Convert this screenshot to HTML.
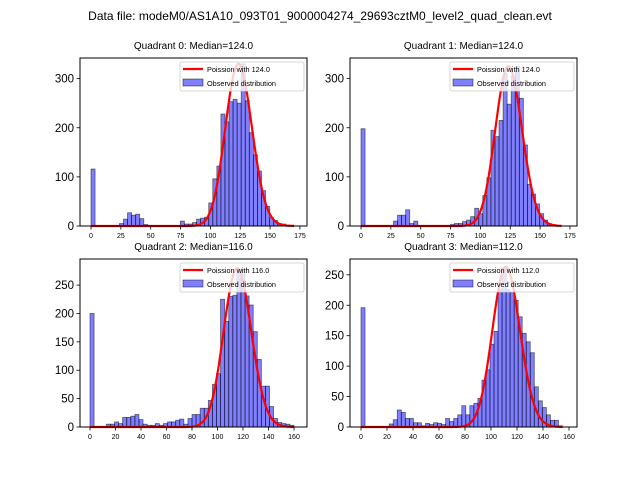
<!DOCTYPE html>
<html><head><meta charset="utf-8"><style>
body{margin:0;background:#fff}
svg{display:block;font-family:"Liberation Sans",sans-serif}
</style></head><body>
<svg id="chart" width="640" height="480">
<rect width="640" height="480" fill="#fff"/>
<text x="320" y="20" text-anchor="middle" font-size="12">Data file: modeM0/AS1A10_093T01_9000004274_29693cztM0_level2_quad_clean.evt</text>
</svg>
<script>
const titles = ["Quadrant 0: Median=124.0","Quadrant 1: Median=124.0","Quadrant 2: Median=116.0","Quadrant 3: Median=112.0"];
const medians = [124, 124, 116, 112];
const curvePeaks = [330, 325, 280, 263];
const curveMax = [170, 168, 160, 155];
const binWidths = [3.4, 3.4, 3.2, 3.1];
const counts0 = [116,0,0,0,0,0,0,5,14,27,22,24,15,3,0,0,0,0,0,0,0,0,10,4,4,7,14,16,18,47,96,122,228,212,253,258,250,330,255,190,145,112,72,40,17,11,5,4,2,1];
const counts1 = [198,0,0,0,0,0,0,0,10,22,22,33,5,10,0,0,0,0,0,0,0,0,3,5,5,9,12,19,36,25,62,98,195,182,215,310,248,305,325,260,165,85,65,45,25,12,5,3,1,0];
const counts2 = [200,0,0,0,5,5,9,6,17,17,19,22,13,5,3,3,6,3,6,9,9,12,14,5,15,22,22,33,33,47,75,94,225,186,230,232,275,278,231,215,168,119,72,72,36,15,8,6,5,3];
const counts3 = [196,0,0,0,0,0,0,5,12,28,24,14,14,7,7,2,6,4,7,6,4,14,9,14,20,35,20,35,39,47,77,94,136,157,226,262,226,222,208,181,154,140,122,66,43,32,20,11,11,2];
const xTicks01 = [0,25,50,75,100,125,150,175];
const xTicks23 = [0,20,40,60,80,100,120,140,160];
const yTicks01 = [0,100,200,300];
const yTicks23 = [0,50,100,150,200,250];

const svg = document.getElementById('chart');
const NS = 'http://www.w3.org/2000/svg';
function mk(tag, attrs, parent){const e=document.createElementNS(NS,tag);for(const k in attrs)e.setAttribute(k,attrs[k]);parent.appendChild(e);return e;}
function lnFact(n){if(n<1)return 0;return n*Math.log(n)-n+0.5*Math.log(2*Math.PI*n)+1/(12*n);}
function lpois(k,mu){return k*Math.log(mu)-mu-lnFact(k);}

const panels = [
 {L:80,R:307,T:58,B:226,x0:91,xs:1.194,ymax:342,counts:counts0,xt:xTicks01,yt:yTicks01},
 {L:350,R:577,T:58,B:226,x0:361,xs:1.194,ymax:342,counts:counts1,xt:xTicks01,yt:yTicks01},
 {L:80,R:307,T:259,B:427,x0:90,xs:1.275,ymax:296,counts:counts2,xt:xTicks23,yt:yTicks23},
 {L:350,R:577,T:259,B:427,x0:361,xs:1.3,ymax:276,counts:counts3,xt:xTicks23,yt:yTicks23}
];

panels.forEach((p,i)=>{
  const g = mk('g',{},svg);
  
  
  const X = v => p.x0 + v*p.xs;
  const Y = v => p.B - v*(p.B-p.T)/p.ymax;
  const t = mk('text',{x:(p.L+p.R)/2,y:p.T-9,'text-anchor':'middle','font-size':'10'},g);
  t.textContent = titles[i];
  
  
  const w = binWidths[i];
  p.counts.forEach((c,j)=>{
    if(c<=0) return;
    const r = mk('rect',{x:X(j*w),y:Y(c),width:w*p.xs,height:p.B-Y(c),fill:'rgba(0,0,255,0.5)',stroke:'rgba(0,0,0,0.55)','stroke-width':'0.8'},g);
    
    
  });
  const mu = medians[i], peak = lpois(mu,mu);
  let d='';
  for(let k=0;k<=curveMax[i];k++){
    const v = curvePeaks[i]*Math.exp(lpois(k,mu)-peak);
    d += (k?'L':'M')+X(k).toFixed(1)+','+Y(v).toFixed(1);
  }
  const cl = mk('path',{d:d,fill:'none',stroke:'#ff0000','stroke-width':'2.2'},g);
  
  
  const fr = mk('rect',{x:p.L,y:p.T,width:p.R-p.L,height:p.B-p.T,fill:'none',stroke:'#000','stroke-width':'1'},g);
  
  
  p.xt.forEach(v=>{
    mk('line',{x1:X(v),x2:X(v),y1:p.B,y2:p.B+3.5,stroke:'#000','stroke-width':'0.8'},g);
    const tx = mk('text',{x:X(v),y:p.B+12,'text-anchor':'middle','font-size':'7'},g);
    tx.textContent = v;
    
    
  });
  p.yt.forEach(v=>{
    mk('line',{x1:p.L-3.5,x2:p.L,y1:Y(v),y2:Y(v),stroke:'#000','stroke-width':'0.8'},g);
    const ty = mk('text',{x:p.L-6,y:Y(v)+4,'text-anchor':'end','font-size':'11.5'},g);
    ty.textContent = v;
    
    
  });
  const lg = mk('g',{},g);
  
  
  const lx = p.R-127, ly = p.T+4;
  mk('rect',{x:lx,y:ly,width:124,height:29,rx:2,fill:'#fff','fill-opacity':'0.8',stroke:'#ccc','stroke-width':'0.8'},lg);
  mk('line',{x1:lx+3,x2:lx+23,y1:ly+7,y2:ly+7,stroke:'#ff0000','stroke-width':'2.2'},lg);
  const l1 = mk('text',{x:lx+27,y:ly+10,'font-size':'7.3'},lg);
  l1.textContent = 'Poission with '+medians[i].toFixed(1);
  
  
  mk('rect',{x:lx+3,y:ly+17,width:20,height:7,fill:'rgba(0,0,255,0.5)',stroke:'rgba(0,0,0,0.55)','stroke-width':'0.8'},lg);
  const l2 = mk('text',{x:lx+27,y:ly+24,'font-size':'7.3'},lg);
  l2.textContent = 'Observed distribution';
  
  
});
</script>
</body></html>
